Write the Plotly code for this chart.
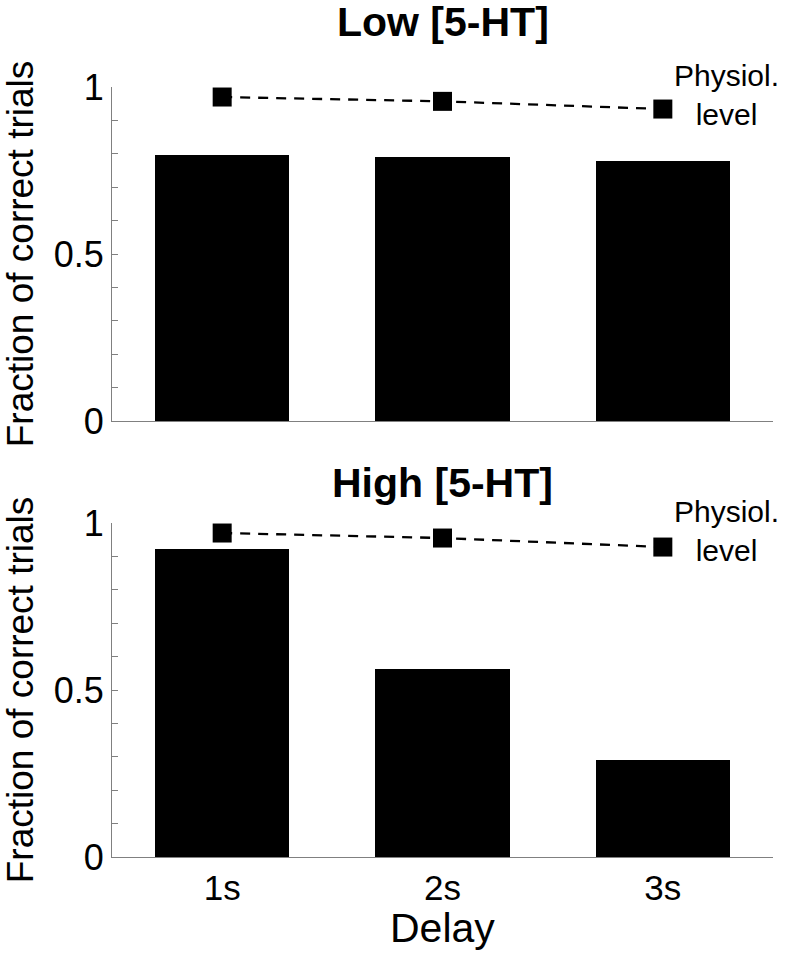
import plotly.graph_objects as go
from plotly.subplots import make_subplots

delays = ["1s", "2s", "3s"]
x_pos = [1, 2, 3]
low_bars = [0.796, 0.790, 0.778]
low_physiol = [0.970, 0.957, 0.934]
high_bars = [0.922, 0.563, 0.290]
high_physiol = [0.970, 0.955, 0.928]
panel_titles = ["Low [5-HT]", "High [5-HT]"]
x_title = "Delay"
y_title = "Fraction of correct trials"
y_ticks = [0, 0.5, 1]
y_ticklabels = ["0", "0.5", "1"]

FONT = "Liberation Sans, Arial, sans-serif"
AX = "#808080"
W, H = 787, 955
ML, MR, MT, MB = 112, 14, 87, 98
PH = H - MT - MB

fig = make_subplots(rows=2, cols=1, vertical_spacing=102 / PH)

for r, (bars, phys) in enumerate([(low_bars, low_physiol), (high_bars, high_physiol)], start=1):
    fig.add_trace(go.Bar(x=x_pos, y=bars, width=0.61, marker=dict(color="black", line=dict(width=0)),
                         showlegend=False, hoverinfo="skip"), row=r, col=1)
    fig.add_trace(go.Scatter(x=x_pos, y=phys, mode="lines+markers",
                             line=dict(color="black", width=2.3, dash="10px,8px"),
                             marker=dict(symbol="square", size=19, color="black"),
                             showlegend=False), row=r, col=1)
    fig.update_yaxes(range=[0, 1], tickvals=y_ticks, ticktext=y_ticklabels,
                     ticks="inside", ticklen=6, tickcolor=AX, tickwidth=1,
                     minor=dict(dtick=0.1, tick0=0, ticks="inside", ticklen=6, tickcolor=AX),
                     showline=True, linecolor=AX, linewidth=1, showgrid=False, zeroline=False,
                     tickfont=dict(size=36, family=FONT, color="black"),
                     automargin=False,
                     title=dict(text=y_title, font=dict(size=37, family=FONT, color="black"), standoff=10),
                     row=r, col=1)
    fig.update_xaxes(range=[0.5, 3.5], tickvals=x_pos, ticktext=delays,
                     showticklabels=(r == 2), ticks="",
                     showline=True, linecolor=AX, linewidth=1, showgrid=False, zeroline=False,
                     tickfont=dict(size=35, family=FONT, color="black"),
                     automargin=False,
                     row=r, col=1)

annotations = [
    dict(text="<b>" + panel_titles[0] + "</b>", x=0.5, y=(H - MB - 22) / PH, xref="paper", yref="paper",
         showarrow=False, font=dict(size=41, family=FONT, color="black"), xanchor="center", yanchor="middle"),
    dict(text="<b>" + panel_titles[1] + "</b>", x=0.5, y=(H - MB - 483) / PH, xref="paper", yref="paper",
         showarrow=False, font=dict(size=41, family=FONT, color="black"), xanchor="center", yanchor="middle"),
    dict(text=x_title, x=0.5, y=(H - MB - 928) / PH, xref="paper", yref="paper",
         showarrow=False, font=dict(size=41, family=FONT, color="black"), xanchor="center", yanchor="middle"),
]
for xr, yr in [("x", "y"), ("x2", "y2")]:
    annotations.append(dict(text="Physiol.<br>level", x=3.29, y=0.975, xref=xr, yref=yr, showarrow=False,
                            font=dict(size=30, family=FONT, color="black"), xanchor="center", yanchor="middle"))

fig.update_layout(
    width=W, height=H,
    margin=dict(l=ML, r=MR, t=MT, b=MB, autoexpand=False),
    plot_bgcolor="white", paper_bgcolor="white",
    bargap=0,
    annotations=annotations,
)

fig.write_html("out.html", config={"displayModeBar": False},
               post_script="document.body.style.margin='0';document.body.style.overflow='hidden';")
